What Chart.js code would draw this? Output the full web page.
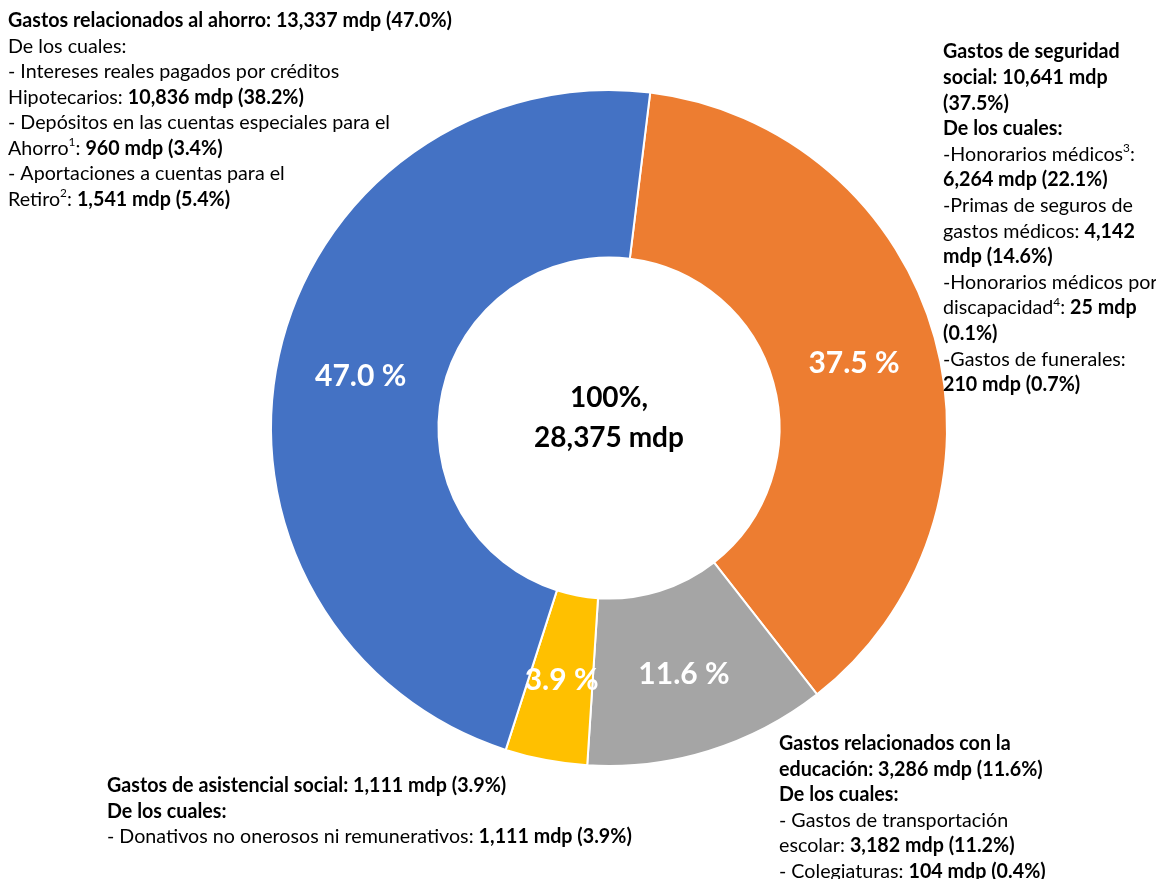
<!DOCTYPE html>
<html>
<head>
<meta charset="utf-8">
<script src="https://cdn.jsdelivr.net/npm/chart.js@4/dist/chart.umd.min.js"></script>
<style>
  body { margin: 0; background: #fff; }
  #wrap { width: 1156px; height: 879px; position: relative; }
</style>
</head>
<body>
<div id="wrap"><canvas id="myChart" width="1156" height="879"></canvas></div>
<script>
// datos de la grafica (orden de las rebanadas, empezando arriba y en sentido horario)
const categorias = ['Gastos de seguridad social', 'Gastos relacionados con la educación', 'Gastos de asistencial social', 'Gastos relacionados al ahorro'];
const montos = [10641, 3286, 1111, 13337];
const porcentajes = [37.5, 11.6, 3.9, 47.0];
const colores = ['#ED7D31', '#A5A5A5', '#FFC000', '#4472C4'];
const textoCentro = ['100%,', '28,375 mdp'];

// notas: cada linea es una lista de [texto, estilo]  n=normal b=negrita s=superindice
const notaAhorro = [
  [['Gastos relacionados al ahorro: 13,337 mdp (47.0%)', 'b']],
  [['De los cuales:', 'n']],
  [['- Intereses reales pagados por créditos', 'n']],
  [['Hipotecarios: ', 'n'], ['10,836 mdp (38.2%)', 'b']],
  [['- Depósitos en las cuentas especiales para el', 'n']],
  [['Ahorro', 'n'], ['1', 's'], [': ', 'n'], ['960 mdp (3.4%)', 'b']],
  [['- Aportaciones a cuentas para el', 'n']],
  [['Retiro', 'n'], ['2', 's'], [': ', 'n'], ['1,541 mdp (5.4%)', 'b']]
];
const notaSeguridad = [
  [['Gastos de seguridad', 'b']],
  [['social: 10,641 mdp', 'b']],
  [['(37.5%)', 'b']],
  [['De los cuales:', 'b']],
  [['-Honorarios médicos', 'n'], ['3', 's'], [':', 'n']],
  [['6,264 mdp (22.1%)', 'b']],
  [['-Primas de seguros de', 'n']],
  [['gastos médicos: ', 'n'], ['4,142', 'b']],
  [['mdp (14.6%)', 'b']],
  [['-Honorarios médicos por', 'n']],
  [['discapacidad', 'n'], ['4', 's'], [': ', 'n'], ['25 mdp', 'b']],
  [['(0.1%)', 'b']],
  [['-Gastos de funerales:', 'n']],
  [['210 mdp (0.7%)', 'b']]
];
const notaAsistencia = [
  [['Gastos de asistencial social: 1,111 mdp (3.9%)', 'b']],
  [['De los cuales:', 'b']],
  [['- Donativos no onerosos ni remunerativos: ', 'n'], ['1,111 mdp (3.9%)', 'b']]
];
const notaEducacion = [
  [['Gastos relacionados con la', 'b']],
  [['educación: 3,286 mdp (11.6%)', 'b']],
  [['De los cuales:', 'b']],
  [['- Gastos de transportación', 'n']],
  [['escolar: ', 'n'], ['3,182 mdp (11.2%)', 'b']],
  [['- Colegiaturas: ', 'n'], ['104 mdp (0.4%)', 'b']]
];

const FUENTE = 'Lato';
const TAM = 20;

function dibujaLineas(ctx, x, y0, lh, lineas, sx) {
  lineas.forEach(function(linea, i) {
    let cx = 0;
    ctx.save();
    ctx.translate(x, y0 + i * lh);
    ctx.scale(sx, 1);
    linea.forEach(function(seg) {
      const t = seg[0], s = seg[1];
      ctx.font = (s === 'b' ? 'bold ' : '') + (s === 's' ? Math.round(TAM * 0.62) : TAM) + 'px ' + FUENTE;
      ctx.fillText(t, cx, s === 's' ? -TAM * 0.3 : 0);
      cx += ctx.measureText(t).width;
    });
    ctx.restore();
  });
}

const etiquetas = {
  id: 'etiquetas',
  afterDraw(chart) {
    const ctx = chart.ctx;
    const meta = chart.getDatasetMeta(0);
    ctx.save();
    ctx.textBaseline = 'middle';

    // porcentajes dentro de cada rebanada
    ctx.textAlign = 'center';
    ctx.fillStyle = '#fff';
    ctx.font = 'bold 30px ' + FUENTE;
    meta.data.forEach(function(arc, i) {
      const p = arc.getCenterPoint();
      ctx.fillText(porcentajes[i].toFixed(1) + ' %', p.x, p.y + 3);
    });

    // total en el centro
    ctx.fillStyle = '#000';
    ctx.font = 'bold 28px ' + FUENTE;
    const c = meta.data[0];
    ctx.fillText(textoCentro[0], c.x, c.y - 30);
    ctx.fillText(textoCentro[1], c.x, c.y + 10);

    // notas laterales
    ctx.textAlign = 'left';
    ctx.font = 'bold ' + TAM + 'px ' + FUENTE;
    const sx = 444 / ctx.measureText(notaAhorro[0][0][0]).width;
    dibujaLineas(ctx, 8, 21, 25.5, notaAhorro, sx);
    dibujaLineas(ctx, 943, 52, 25.6, notaSeguridad, sx);
    dibujaLineas(ctx, 107, 786, 25.5, notaAsistencia, sx);
    dibujaLineas(ctx, 779, 744, 25.5, notaEducacion, sx);
    ctx.restore();
  }
};

const ctx = document.getElementById('myChart').getContext('2d');
const myChart = new Chart(ctx, {
  type: 'doughnut',
  data: {
    labels: categorias,
    datasets: [{
      data: montos,
      backgroundColor: colores,
      borderColor: '#fff',
      borderWidth: 2
    }]
  },
  options: {
    responsive: false,
    animation: false,
    rotation: 7,
    radius: 338,
    cutout: 170,
    layout: { padding: { left: 271, right: 209, top: 90, bottom: 113 } },
    plugins: {
      legend: { display: false },
      tooltip: { enabled: false }
    }
  },
  plugins: [etiquetas]
});
</script>
</body>
</html>
